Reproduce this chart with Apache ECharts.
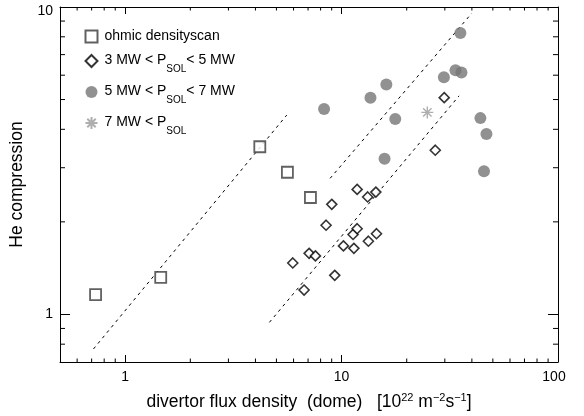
<!DOCTYPE html>
<html>
<head>
<meta charset="utf-8">
<title>He compression</title>
<script src="https://cdn.jsdelivr.net/npm/echarts@6.0.0/dist/echarts.min.js"></script>
<style>
    html, body {margin: 0; padding: 0; background: #fff;}
    #chart-he-compression {width: 584px; height: 416px;}
</style>
</head>
<body>
<div id="chart-he-compression"></div>
<script>
// values: [flux density, He compression]
let ohmicScan = [[0.73, 1.16], [1.46, 1.32], [4.19, 3.51], [5.62, 2.90], [7.18, 2.40]];
let psolLow = [[5.95, 1.47], [6.71, 1.20], [7.08, 1.58], [7.57, 1.55], [8.48, 1.95], [9.01, 2.28],
    [9.30, 1.34], [10.2, 1.67], [11.3, 1.82], [11.4, 1.64], [11.8, 1.90], [11.8, 2.55],
    [13.2, 2.41], [13.3, 1.73], [14.4, 2.50], [14.5, 1.83], [27.1, 3.42], [29.8, 5.07]];
let psolMid = [[8.30, 4.66], [13.6, 5.07], [15.8, 3.21], [16.1, 5.60], [17.7, 4.32], [29.7, 5.91],
    [33.6, 6.23], [35.8, 6.12], [35.4, 8.23], [43.8, 4.35], [45.5, 2.92], [46.7, 3.86]];
let psolHigh = [[24.9, 4.54]];

// dashed guide lines (end points)
let fitOhmic = [[0.714, 0.772], [5.58, 4.45]];
let fitUpper = [[8.85, 2.77], [39.9, 9.53]];
let fitLower = [[4.64, 0.942], [34.9, 5.14]];

let legendNames = ['ohmic densityscan', '3 MW < P_SOL< 5 MW', '5 MW < P_SOL< 7 MW', '7 MW < P_SOL'];
let xMinorTicks = [0.6, 0.7, 0.8, 0.9, 2, 3, 4, 5, 6, 7, 8, 9, 20, 30, 40, 50, 60, 70, 80, 90];
let yMinorTicks = [0.8, 0.9, 2, 3, 4, 5, 6, 7, 8, 9];

let fontName = '"Liberation Sans", Arial, Helvetica, sans-serif';

function isDecade(v) {
    let p = Math.log10(v);
    return Math.abs(p - Math.round(p)) < 1e-9;
}

function legendLabel(name) {
    return '{n|' + name.replace(/_([A-Z]+)/, '}{s|$1}{n|') + '}';
}

function minorTickX(params, api) {
    let x = api.coord([api.value(0), 1])[0];
    let cs = params.coordSys;
    let style = {stroke: '#000', lineWidth: 1};
    return {
        type: 'group',
        children: [
            {type: 'line', shape: {x1: x, y1: cs.y + cs.height, x2: x, y2: cs.y + cs.height - 3.5}, style: style},
            {type: 'line', shape: {x1: x, y1: cs.y, x2: x, y2: cs.y + 3.5}, style: style}
        ]
    };
}

function minorTickY(params, api) {
    let y = api.coord([1, api.value(1)])[1];
    let cs = params.coordSys;
    let style = {stroke: '#000', lineWidth: 1};
    return {
        type: 'group',
        children: [
            {type: 'line', shape: {x1: cs.x, y1: y, x2: cs.x + 5, y2: y}, style: style},
            {type: 'line', shape: {x1: cs.x + cs.width, y1: y, x2: cs.x + cs.width - 5, y2: y}, style: style}
        ]
    };
}

function fitLine(data) {
    return {
        type: 'line',
        data: data,
        symbol: 'none',
        silent: true,
        z: 1,
        lineStyle: {color: '#000', width: 1, type: [3, 4]}
    };
}

function chartHeCompression(element) {
    let chartDom = document.getElementById(element);
    let myChart = echarts.init(chartDom);
    let axisLine = {onZero: false, lineStyle: {color: '#000', width: 1}};
    let option = {
        animation: false,
        backgroundColor: '#fff',
        grid: {left: 60, right: 26, top: 7, bottom: 53},
        legend: {
            data: legendNames,
            orient: 'vertical',
            left: 78,
            top: 23,
            itemWidth: 12,
            itemHeight: 12,
            itemGap: 9,
            selectedMode: false,
            formatter: legendLabel,
            textStyle: {
                padding: [0, 0, 0, 2],
                rich: {
                    n: {fontSize: 14, lineHeight: 17, verticalAlign: 'top', color: '#000', fontFamily: fontName, padding: [1, 0, 0, 0]},
                    s: {fontSize: 10, lineHeight: 10, verticalAlign: 'top', color: '#000', fontFamily: fontName, padding: [12, 0, 0, 0]}
                }
            }
        },
        xAxis: [
            {
                type: 'log', logBase: 10, min: 0.5, max: 100,
                position: 'bottom',
                axisLine: axisLine,
                axisTick: {inside: true, length: 7, lineStyle: {color: '#000'}},
                splitLine: {show: false},
                axisLabel: {
                    margin: 8, fontSize: 14, color: '#000', fontFamily: fontName,
                    formatter: function (v) {
                        if (!isDecade(v)) return '';
                        return v === 100 ? '{r|100}' : String(v);
                    },
                    rich: {r: {fontSize: 14, color: '#000', fontFamily: fontName, padding: [0, 8, 0, 0]}}
                },
                name: 'divertor flux density  (dome)   [10{u|22} m{u|−2}s{u|−1}]',
                nameLocation: 'middle',
                nameGap: 30,
                nameTextStyle: {
                    fontSize: 17.5, color: '#000', fontFamily: fontName,
                    rich: {u: {fontSize: 11, color: '#000', fontFamily: fontName, padding: [0, 0, 9, 0]}}
                }
            },
            {
                type: 'log', logBase: 10, min: 0.5, max: 100,
                position: 'top',
                axisLine: axisLine,
                axisTick: {inside: true, length: 7, lineStyle: {color: '#000'}},
                axisLabel: {show: false},
                splitLine: {show: false}
            }
        ],
        yAxis: [
            {
                type: 'log', logBase: 10, min: 0.7, max: 10,
                position: 'left',
                axisLine: axisLine,
                axisTick: {inside: true, length: 10, lineStyle: {color: '#000'}},
                splitLine: {show: false},
                axisLabel: {
                    margin: 7, fontSize: 14, color: '#000', fontFamily: fontName,
                    formatter: function (v) {
                        if (!isDecade(v)) return '';
                        return v === 10 ? '{t|10}' : String(v);
                    },
                    rich: {t: {fontSize: 14, color: '#000', fontFamily: fontName, padding: [9, 0, 0, 0]}}
                },
                name: 'He compression',
                nameLocation: 'middle',
                nameGap: 24,
                nameTextStyle: {fontSize: 17.5, color: '#000', fontFamily: fontName}
            },
            {
                type: 'log', logBase: 10, min: 0.7, max: 10,
                position: 'right',
                axisLine: axisLine,
                axisTick: {inside: true, length: 10, lineStyle: {color: '#000'}},
                axisLabel: {show: false},
                splitLine: {show: false}
            }
        ],
        series: [
            fitLine(fitOhmic),
            fitLine(fitUpper),
            fitLine(fitLower),
            {
                type: 'custom', silent: true, z: 3,
                renderItem: minorTickX,
                data: xMinorTicks.map(v => [v, 1])
            },
            {
                type: 'custom', silent: true, z: 3,
                renderItem: minorTickY,
                data: yMinorTicks.map(v => [1, v])
            },
            {
                name: legendNames[0], type: 'scatter', data: ohmicScan, z: 4,
                symbol: 'rect', symbolSize: 11,
                itemStyle: {color: '#fff', borderColor: '#3a3a3a', borderWidth: 1.8}
            },
            {
                name: legendNames[1], type: 'scatter', data: psolLow, z: 4,
                symbol: 'diamond', symbolSize: 10,
                itemStyle: {color: '#fff', borderColor: '#000', borderWidth: 1.6}
            },
            {
                name: legendNames[2], type: 'scatter', data: psolMid, z: 4,
                symbol: 'circle', symbolSize: 12,
                itemStyle: {color: '#757575', borderWidth: 0}
            },
            {
                name: legendNames[3], type: 'scatter', data: psolHigh, z: 4,
                symbol: 'path://M0,-5L0,5M-5,0L5,0M-3.5,-3.5L3.5,3.5M-3.5,3.5L3.5,-3.5',
                symbolSize: 12,
                itemStyle: {color: 'none', borderColor: '#9a9a9a', borderWidth: 1.4}
            }
        ]
    };
    option && myChart.setOption(option);
}

chartHeCompression('chart-he-compression');
</script>
</body>
</html>
